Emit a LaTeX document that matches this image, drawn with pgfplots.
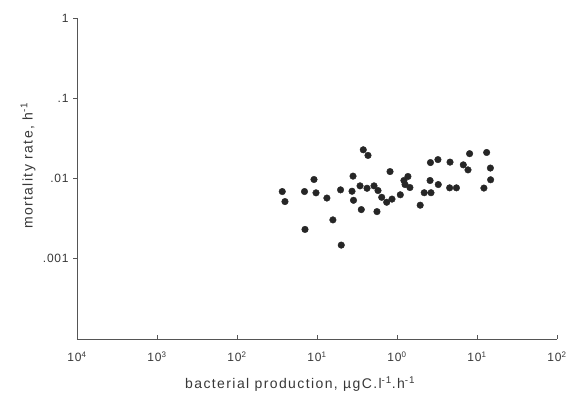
\documentclass[border=0pt]{standalone}
\usepackage{fontspec}
\setmainfont{Liberation Sans}
\newfontfamily\lblfont[LetterSpace=10]{Liberation Sans}
\newfontfamily\tckfont[LetterSpace=6]{Liberation Sans}
\usepackage{pgfplots}
\pgfplotsset{compat=1.18}
\usetikzlibrary{calc}
\definecolor{ink}{HTML}{262626}
\definecolor{axc}{HTML}{555555}
\definecolor{txt}{HTML}{383838}
\begin{document}
\begin{tikzpicture}
\begin{loglogaxis}[name=ax, scale only axis, width=480pt, height=321pt,
  xmin=1e-4, xmax=1e2, ymin=1e-4, ymax=1,
  axis lines=left, axis line style={-, axc, line width=0.9pt},
  xtick={1e-4,1e-3,1e-2,1e-1,1,10,100},
  xticklabels={10\textsuperscript{4},10\textsuperscript{3},10\textsuperscript{2},10\textsuperscript{1},10\textsuperscript{0},10\textsuperscript{1},10\textsuperscript{2}},
  ytick={1e-3,1e-2,1e-1,1},
  yticklabels={.001,.01,.1,1},
  xminorticks=false, yminorticks=false,
  tick style={axc, line width=0.8pt}, major tick length=4pt, tick align=outside,
  xtick style={yshift=4pt},
  every tick label/.append style={font=\tckfont\fontsize{12}{14}\selectfont, text=txt},
  xticklabel style={yshift=-5pt},
  yticklabel style={xshift=-1pt},
  xlabel={bacterial production, µgC.l\textsuperscript{-1}.h\textsuperscript{-1}},
  ylabel={mortality rate, h\textsuperscript{-1}},
  xlabel style={font=\lblfont\fontsize{14}{16}\selectfont, text=txt, at={(axis description cs:0.465,0)}, anchor=center, yshift=-45pt},
  ylabel style={font=\lblfont\fontsize{14}{16}\selectfont, text=txt, at={(axis description cs:-0.102,0.54)}, anchor=center},
]
\addplot[only marks, mark=*, mark size=3.3pt, ink] coordinates {
(0.0368,0.00688) (0.0398,0.00516) (0.0698,0.00688) (0.0917,0.00972)
(0.0972,0.00663) (0.0708,0.00232) (0.133,0.00571) (0.158,0.00305)
(0.201,0.00148) (0.197,0.00722) (0.274,0.00694) (0.282,0.0107)
(0.286,0.00535) (0.358,0.0041) (0.379,0.0228) (0.434,0.0194)
(0.345,0.0081) (0.422,0.00756) (0.516,0.0081) (0.579,0.00708)
(0.644,0.00583) (0.743,0.00506) (0.562,0.00387) (0.818,0.0122)
(0.866,0.00554) (1.10,0.00627) (1.22,0.00944) (1.37,0.0106)
(1.26,0.00841) (1.45,0.00772) (1.95,0.00465) (2.19,0.00665)
(2.66,0.00665) (2.59,0.00944) (2.62,0.0158) (3.25,0.0172)
(3.28,0.00841) (4.60,0.0160) (4.55,0.00765) (5.53,0.00765)
(6.74,0.0148) (7.72,0.0128) (8.08,0.0204) (13.2,0.0211)
(14.7,0.0135) (14.8,0.00964) (12.2,0.0076)
};
\end{loglogaxis}
\pgfresetboundingbox
\path ($(ax.south west)+(-77pt,-53pt)$) rectangle ($(ax.north east)+(18pt,18pt)$);
\end{tikzpicture}
\end{document}
